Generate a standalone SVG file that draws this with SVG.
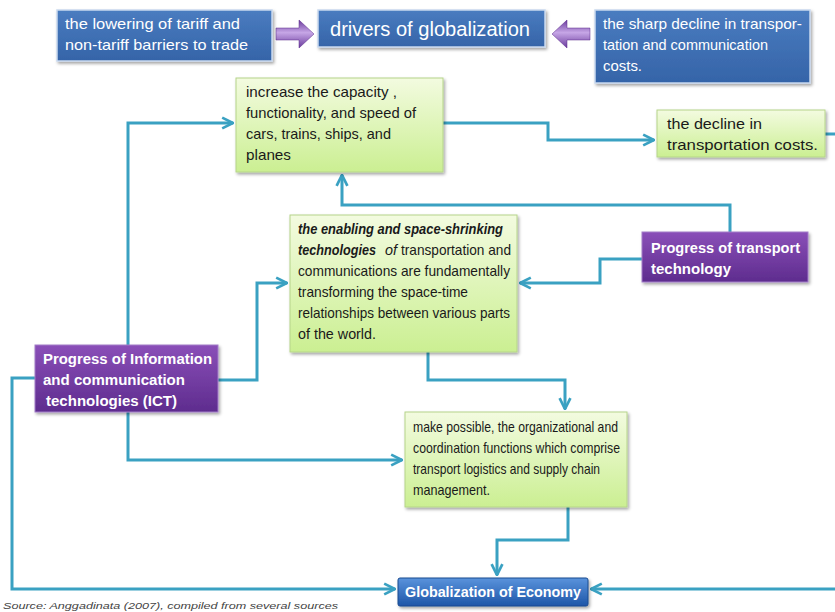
<svg xmlns="http://www.w3.org/2000/svg" width="835" height="612" viewBox="0 0 835 612">
<defs>
<linearGradient id="gBlue" x1="0" y1="0" x2="0" y2="1"><stop offset="0" stop-color="#4a7cc0"/><stop offset="1" stop-color="#3564a8"/></linearGradient>
<linearGradient id="gBlue2" x1="0" y1="0" x2="0" y2="1"><stop offset="0" stop-color="#5a93dc"/><stop offset="1" stop-color="#1d56a8"/></linearGradient>
<linearGradient id="gGreen" x1="0" y1="0" x2="0" y2="1"><stop offset="0" stop-color="#f3fbe0"/><stop offset="1" stop-color="#cbef92"/></linearGradient>
<linearGradient id="gPurple" x1="0" y1="0" x2="0" y2="1"><stop offset="0" stop-color="#8a4fb8"/><stop offset="1" stop-color="#5e2c8e"/></linearGradient>
<linearGradient id="gArrow" x1="0" y1="0" x2="0" y2="1"><stop offset="0" stop-color="#6a3a9c"/><stop offset="0.45" stop-color="#c6a6e6"/><stop offset="1" stop-color="#6a3a9c"/></linearGradient>
<marker id="ah" viewBox="0 0 10 10" refX="9" refY="5" markerWidth="4.5" markerHeight="4.5" orient="auto" markerUnits="strokeWidth">
<path d="M1,1 L9,5 L1,9" fill="none" stroke="#3aa1c2" stroke-width="2"/>
</marker>
<filter id="sh" x="-10%" y="-10%" width="130%" height="140%"><feDropShadow dx="1.5" dy="2" stdDeviation="1.5" flood-color="#000" flood-opacity="0.35"/></filter>
</defs>
<style>
.blue{fill:url(#gBlue);stroke:#c9d9ee;stroke-width:1.5;filter:url(#sh)}
.green{fill:url(#gGreen);stroke:#b6d48a;stroke-width:1;filter:url(#sh)}
.purple{fill:url(#gPurple);stroke:#a27cc8;stroke-width:1;filter:url(#sh)}
.t{font-family:"Liberation Sans","DejaVu Sans",sans-serif}
.s14{font-size:14.5px}
.s19{font-size:20px}
.tw{fill:#ffffff}
.tk{fill:#1a1a1a}
.tb{font-weight:bold}
.c{fill:none;stroke:#3aa1c2;stroke-width:3;marker-end:url(#ah)}
.cn{fill:none;stroke:#3aa1c2;stroke-width:3}
</style>
<rect width="835" height="612" fill="#ffffff"/>

<g id="connectors">
<path class="c" d="M128,345 V123 H233"/>
<path class="c" d="M443,123 H548 V140 H654"/>
<path class="cn" d="M825,134 H835"/>
<path class="c" d="M835,589 H591"/>
<path class="c" d="M730,232 V205 H342 V175"/>
<path class="c" d="M642,259 H600 V283 H520"/>
<path class="c" d="M218,380 H257 V283 H287"/>
<path class="c" d="M428,352 V380 H565 V409"/>
<path class="c" d="M128,412 V460 H402"/>
<path class="c" d="M568,507 V540 H497 V575"/>
<path class="c" d="M35,378 H12 V589 H395"/>
<path d="M276,28 H299 V20 L314,34 L299,48 V40 H276 Z" fill="url(#gArrow)" stroke="#5a2a8a" stroke-width="0.5"/>
<path d="M590,28 H567 V20 L552,34 L567,48 V40 H590 Z" fill="url(#gArrow)" stroke="#5a2a8a" stroke-width="0.5"/>
</g>

<g id="n-tariff">
<rect class="blue" x="57" y="10" width="215" height="51"/>
<text class="t s14 tw" x="65" y="29" textLength="175" lengthAdjust="spacingAndGlyphs">the lowering of tariff and</text>
<text class="t s14 tw" x="65" y="50" textLength="183" lengthAdjust="spacingAndGlyphs">non-tariff barriers to trade</text>
</g>

<g id="n-drivers">
<rect class="blue" x="318" y="10" width="227" height="37"/>
<text class="t s19 tw" x="330" y="36" textLength="200" lengthAdjust="spacingAndGlyphs">drivers of globalization</text>
</g>

<g id="n-decline-tc">
<rect class="blue" x="595" y="10" width="215" height="73"/>
<text class="t s14 tw" x="603" y="29" textLength="199" lengthAdjust="spacingAndGlyphs">the sharp decline in transpor-</text>
<text class="t s14 tw" x="603" y="50" textLength="165" lengthAdjust="spacingAndGlyphs">tation and communication</text>
<text class="t s14 tw" x="603" y="71" textLength="39" lengthAdjust="spacingAndGlyphs">costs.</text>
</g>

<g id="n-capacity">
<rect class="green" x="236" y="78" width="207" height="94"/>
<text class="t s14 tk" x="246" y="97" textLength="151" lengthAdjust="spacingAndGlyphs">increase the capacity ,</text>
<text class="t s14 tk" x="246" y="118" textLength="170" lengthAdjust="spacingAndGlyphs">functionality, and speed of</text>
<text class="t s14 tk" x="246" y="139" textLength="145" lengthAdjust="spacingAndGlyphs">cars, trains, ships, and</text>
<text class="t s14 tk" x="246" y="160" textLength="45" lengthAdjust="spacingAndGlyphs">planes</text>
</g>

<g id="n-decline-transport">
<rect class="green" x="657" y="110" width="168" height="47"/>
<text class="t s14 tk" x="667" y="129" textLength="95" lengthAdjust="spacingAndGlyphs">the decline in</text>
<text class="t s14 tk" x="667" y="150" textLength="151" lengthAdjust="spacingAndGlyphs">transportation costs.</text>
</g>

<g id="n-enabling">
<rect class="green" x="290" y="215" width="227" height="137"/>
<text class="t s14 tk" x="298" y="234" textLength="205" lengthAdjust="spacingAndGlyphs" font-weight="bold" font-style="italic">the enabling and space-shrinking</text>
<text class="t s14 tk" x="298" y="255" textLength="78" lengthAdjust="spacingAndGlyphs" font-weight="bold" font-style="italic">technologies</text>
<text class="t s14 tk" x="385" y="255" textLength="12" lengthAdjust="spacingAndGlyphs" font-style="italic">of</text>
<text class="t s14 tk" x="401" y="255" textLength="110" lengthAdjust="spacingAndGlyphs">transportation and</text>
<text class="t s14 tk" x="298" y="276" textLength="212" lengthAdjust="spacingAndGlyphs">communications are fundamentally</text>
<text class="t s14 tk" x="298" y="297" textLength="170" lengthAdjust="spacingAndGlyphs">transforming the space-time</text>
<text class="t s14 tk" x="298" y="318" textLength="212" lengthAdjust="spacingAndGlyphs">relationships between various parts</text>
<text class="t s14 tk" x="298" y="339" textLength="78" lengthAdjust="spacingAndGlyphs">of the world.</text>
</g>

<g id="n-transport-tech">
<rect class="purple" x="642" y="232" width="166" height="50"/>
<text class="t s14 tw tb" x="651" y="253" textLength="149" lengthAdjust="spacingAndGlyphs">Progress of transport</text>
<text class="t s14 tw tb" x="651" y="274" textLength="80" lengthAdjust="spacingAndGlyphs">technology</text>
</g>

<g id="n-ict">
<rect class="purple" x="35" y="345" width="183" height="67"/>
<text class="t s14 tw tb" x="43" y="364" textLength="169" lengthAdjust="spacingAndGlyphs">Progress of Information</text>
<text class="t s14 tw tb" x="43" y="385" textLength="142" lengthAdjust="spacingAndGlyphs">and communication</text>
<text class="t s14 tw tb" x="46" y="406" textLength="131" lengthAdjust="spacingAndGlyphs">technologies (ICT)</text>
</g>

<g id="n-logistics">
<rect class="green" x="405" y="412" width="222" height="95"/>
<text class="t s14 tk" x="413" y="432" textLength="205" lengthAdjust="spacingAndGlyphs">make possible,  the organizational and</text>
<text class="t s14 tk" x="413" y="453" textLength="207" lengthAdjust="spacingAndGlyphs">coordination functions which comprise</text>
<text class="t s14 tk" x="413" y="474" textLength="187" lengthAdjust="spacingAndGlyphs">transport logistics and supply chain</text>
<text class="t s14 tk" x="413" y="495" textLength="77" lengthAdjust="spacingAndGlyphs">management.</text>
</g>

<g id="n-globalization">
<rect x="398" y="578" width="190" height="28" rx="2" fill="url(#gBlue2)" stroke="#1a4a90" stroke-width="1" filter="url(#sh)"/>
<text class="t s14 tw tb" x="493" y="597" text-anchor="middle" textLength="176" lengthAdjust="spacingAndGlyphs">Globalization of Economy</text>
</g>

<text class="t" x="3" y="609" font-size="9.5" font-style="italic" fill="#444" textLength="335" lengthAdjust="spacingAndGlyphs">Source: Anggadinata (2007), compiled from several sources</text>
</svg>
